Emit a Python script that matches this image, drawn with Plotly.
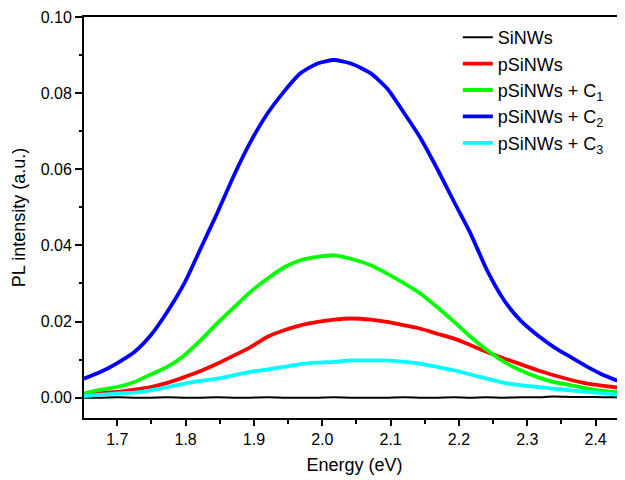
"""
PL-Spektren von SiNWs / pSiNWs mit Plotly nachgebaut
"""

import plotly.graph_objects as go

# Energie-Achse (eV)
energy = [1.651, 1.676, 1.700, 1.725, 1.749, 1.773, 1.798, 1.822, 1.846, 1.871,
          1.895, 1.920, 1.944, 1.968, 1.993, 2.017, 2.042, 2.071, 2.095, 2.120,
          2.144, 2.168, 2.193, 2.217, 2.241, 2.266, 2.290, 2.315, 2.339, 2.363,
          2.388, 2.412, 2.443]

# PL-Intensitaet (a.u.) pro Probe
sinws = [0.0000, 0.0000, 0.0001, 0.0000, 0.0000, 0.0001, 0.0000, 0.0000, 0.0001, 0.0000,
         0.0000, 0.0001, 0.0000, 0.0000, 0.0000, 0.0001, 0.0000, 0.0000, 0.0000, 0.0001,
         0.0000, 0.0000, 0.0001, 0.0000, 0.0001, 0.0000, 0.0001, 0.0001, 0.0003, 0.0002,
         0.0002, 0.0001, 0.0001]
psinws = [0.0008, 0.0012, 0.0015, 0.0021, 0.0028, 0.0039, 0.0054, 0.0070, 0.0089, 0.0111,
          0.0133, 0.0160, 0.0177, 0.0190, 0.0199, 0.0205, 0.0208, 0.0205, 0.0199, 0.0190,
          0.0181, 0.0168, 0.0155, 0.0138, 0.0120, 0.0103, 0.0088, 0.0072, 0.0059, 0.0047,
          0.0037, 0.0031, 0.0024]
psinws_c1 = [0.0011, 0.0021, 0.0028, 0.0041, 0.0061, 0.0081, 0.0111, 0.0151, 0.0195, 0.0238,
             0.0278, 0.0313, 0.0342, 0.0361, 0.0370, 0.0374, 0.0365, 0.0348, 0.0326, 0.0300,
             0.0273, 0.0238, 0.0199, 0.0160, 0.0125, 0.0094, 0.0072, 0.0054, 0.0041, 0.0033,
             0.0024, 0.0018, 0.0012]
psinws_c2 = [0.0050, 0.0068, 0.0091, 0.0120, 0.0164, 0.0225, 0.0300, 0.0392, 0.0484, 0.0585,
             0.0672, 0.0747, 0.0804, 0.0852, 0.0878, 0.0887, 0.0878, 0.0852, 0.0812, 0.0747,
             0.0681, 0.0602, 0.0514, 0.0431, 0.0335, 0.0256, 0.0203, 0.0164, 0.0133, 0.0107,
             0.0081, 0.0059, 0.0037]
psinws_c3 = [0.0004, 0.0008, 0.0011, 0.0013, 0.0019, 0.0028, 0.0037, 0.0044, 0.0050, 0.0059,
             0.0068, 0.0074, 0.0081, 0.0088, 0.0092, 0.0094, 0.0098, 0.0098, 0.0098, 0.0094,
             0.0089, 0.0081, 0.0072, 0.0061, 0.0050, 0.0039, 0.0033, 0.0028, 0.0024, 0.0019,
             0.0015, 0.0011, 0.0006]

series_names = ['SiNWs', 'pSiNWs', 'pSiNWs + C<sub>1</sub>',
                'pSiNWs + C<sub>2</sub>', 'pSiNWs + C<sub>3</sub>']
series_values = [sinws, psinws, psinws_c1, psinws_c2, psinws_c3]
series_colors = ['#000000', '#ff0000', '#00ff00', '#0000ff', '#00ffff']
series_widths = [2, 3.8, 3.8, 3.8, 3.8]

FONT = 'Arial, Liberation Sans, sans-serif'

fig = go.Figure()

for name, values, color, width in zip(series_names, series_values,
                                       series_colors, series_widths):
    fig.add_trace(go.Scatter(
        x=energy,
        y=values,
        mode='lines',
        name=name,
        line={'color': color, 'width': width, 'shape': 'spline', 'smoothing': 0.6},
        hoverinfo='skip'
    ))

# Seite hat ca. 8 px Body-Rand -> Raender entsprechend kleiner
fig.update_layout(
    width=625,
    height=480,
    margin=dict(l=76, r=8, t=9, b=70),
    plot_bgcolor='white',
    paper_bgcolor='white',
    font=dict(family=FONT, size=16, color='black'),
    showlegend=True,
    legend=dict(
        x=0.691, y=0.995, xanchor='left', yanchor='top',
        bgcolor='rgba(0,0,0,0)',
        font=dict(family=FONT, size=18, color='black'),
        tracegroupgap=0,
    ),
    xaxis=dict(
        title=dict(text='Energy (eV)', font=dict(size=18), standoff=11),
        automargin=False,
        range=[1.6513, 2.443],
        dtick=0.1, tick0=1.7, tickformat='.1f',
        ticks='outside', ticklen=6, tickwidth=2, tickcolor='black',
        minor=dict(ticks='outside', ticklen=4, tickwidth=2, dtick=0.05,
                   tick0=1.65, tickcolor='black'),
        showline=True, linewidth=2, linecolor='black', mirror=True,
        showgrid=False, zeroline=False,
    ),
    yaxis=dict(
        title=dict(text='PL intensity (a.u.)', font=dict(size=18), standoff=10),
        automargin=False,
        range=[-0.00534, 0.1],
        dtick=0.02, tick0=0, tickformat='.2f',
        ticks='outside', ticklen=7, tickwidth=2, tickcolor='black',
        minor=dict(ticks='outside', ticklen=3, tickwidth=2, dtick=0.01,
                   tick0=0, tickcolor='black'),
        showline=True, linewidth=2, linecolor='black',
        showgrid=False, zeroline=False,
    ),
)

fig.write_html("out.html")
